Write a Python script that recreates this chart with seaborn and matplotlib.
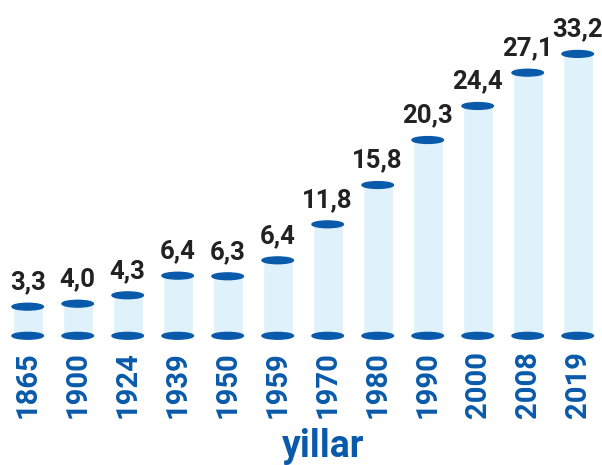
import matplotlib
matplotlib.use("Agg")
import matplotlib.pyplot as plt
from matplotlib.patches import Ellipse
import seaborn as sns
import pandas as pd

years = ["1865", "1900", "1924", "1939", "1950", "1959", "1970", "1980", "1990", "2000", "2008", "2019"]
# printed values
labels = ["3,3", "4,0", "4,3", "6,4", "6,3", "6,4", "11,8", "15,8", "20,3", "24,4", "27,1", "33,2"]
# bar heights as drawn in the picture (not strictly proportional to the labels)
heights = [3.43, 3.78, 4.77, 7.08, 7.01, 8.89, 13.13, 17.76, 23.06, 27.07, 30.99, 33.2]

sns.set_style("white")
plt.rcParams["font.family"] = ["Roboto", "DejaVu Sans"]

dark = "#0a5aab"
light = "#dff1fa"

df = pd.DataFrame({"year": years, "value": heights})

fig = plt.figure(figsize=(6.02, 4.65), dpi=100)
ax = fig.add_axes([0, 129.2 / 465, 1, 335.8 / 465])

sns.barplot(data=df, x="year", y="value", color=light, width=0.6, saturation=1, ax=ax)

bw = 0.63
eh = 0.8
for i, v in enumerate(heights):
    ax.add_patch(Ellipse((i, v), bw, eh, color=dark, zorder=3, clip_on=False))
    ax.add_patch(Ellipse((i, 0), bw, eh, color=dark, zorder=3, clip_on=False))
    ax.text(i, v + 2.05, labels[i], ha="center", va="baseline", fontsize=18.5,
            fontweight="bold", color="#222222")

ax.set_xlim(-0.554, 11.486)
ax.set_ylim(0, 39.55)
ax.set_xlabel("")
ax.set_ylabel("")
ax.set_yticks([])
ax.tick_params(axis="x", length=0, pad=11)
for t in ax.get_xticklabels():
    t.set_rotation(90)
    t.set_fontsize(21)
    t.set_fontweight("bold")
    t.set_color(dark)
    t.set_va("top")
sns.despine(ax=ax, left=True, bottom=True)

fig.text(323 / 602, 8 / 465, "yillar", ha="center", va="baseline", fontsize=27,
         fontweight="bold", color=dark)

fig.savefig("out.png", dpi=100)
